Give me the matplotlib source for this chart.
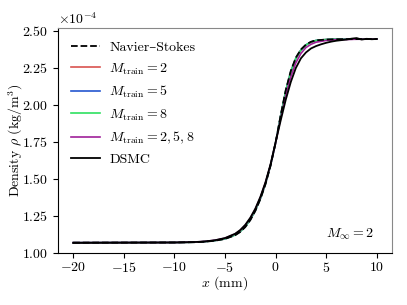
import numpy as np
import matplotlib
matplotlib.use("Agg")
import matplotlib.pyplot as plt

plt.rcParams['font.family'] = ['cmr10', 'DejaVu Serif']
plt.rcParams['mathtext.fontset'] = 'cm'
plt.rcParams['axes.formatter.use_mathtext'] = True
plt.rcParams['axes.unicode_minus'] = True
plt.rcParams['font.size'] = 10

# Navier-Stokes
x_ns = [-20, -10, -8, -7, -6, -5, -4, -3.5, -3, -2.5, -2, -1.5, -1, -0.5, 0, 0.5, 1, 1.5, 2, 2.5, 3, 3.5, 4, 5, 6, 8, 10]
rho_ns = [1.070, 1.071, 1.073, 1.076, 1.083, 1.095, 1.120, 1.142, 1.175, 1.222, 1.285, 1.365, 1.465, 1.590, 1.745, 1.930, 2.100, 2.230, 2.320, 2.375, 2.408, 2.427, 2.437, 2.442, 2.444, 2.445, 2.445]

# M_train = 2
x_m2 = [-20, -10, -8, -7, -6, -5, -4, -3.5, -3, -2.5, -2, -1.5, -1, -0.5, 0, 0.5, 1, 1.5, 2, 2.5, 3, 3.5, 4, 5, 6, 8, 10]
rho_m2 = [1.070, 1.071, 1.073, 1.077, 1.084, 1.097, 1.123, 1.146, 1.180, 1.227, 1.290, 1.370, 1.470, 1.592, 1.745, 1.925, 2.092, 2.222, 2.313, 2.370, 2.404, 2.424, 2.435, 2.442, 2.444, 2.445, 2.445]

# M_train = 5
x_m5 = [-20, -10, -8, -7, -6, -5, -4, -3.5, -3, -2.5, -2, -1.5, -1, -0.5, 0, 0.5, 1, 1.5, 2, 2.5, 3, 3.5, 4, 5, 6, 8, 10]
rho_m5 = [1.070, 1.071, 1.073, 1.077, 1.084, 1.096, 1.122, 1.145, 1.178, 1.225, 1.288, 1.368, 1.468, 1.591, 1.745, 1.927, 2.095, 2.225, 2.316, 2.372, 2.406, 2.426, 2.436, 2.442, 2.444, 2.445, 2.445]

# M_train = 8
x_m8 = [-20, -10, -8, -7, -6, -5, -4, -3.5, -3, -2.5, -2, -1.5, -1, -0.5, 0, 0.5, 1, 1.5, 2, 2.5, 3, 3.5, 4, 5, 6, 8, 10]
rho_m8 = [1.070, 1.071, 1.073, 1.077, 1.084, 1.096, 1.122, 1.145, 1.178, 1.226, 1.289, 1.369, 1.469, 1.592, 1.746, 1.926, 2.093, 2.223, 2.314, 2.371, 2.405, 2.425, 2.436, 2.442, 2.444, 2.445, 2.445]

# M_train = 2, 5, 8
x_m258 = [-20, -10, -8, -7, -6, -5, -4, -3.5, -3, -2.5, -2, -1.5, -1, -0.5, 0, 0.5, 1, 1.5, 2, 2.5, 3, 3.5, 4, 5, 6, 8, 10]
rho_m258 = [1.070, 1.071, 1.074, 1.078, 1.086, 1.100, 1.128, 1.152, 1.187, 1.234, 1.297, 1.376, 1.475, 1.595, 1.745, 1.912, 2.065, 2.190, 2.285, 2.348, 2.388, 2.410, 2.424, 2.436, 2.441, 2.444, 2.445]

# DSMC
x_dsmc = [-20, -10, -8, -7, -6, -5, -4, -3.5, -3, -2.5, -2, -1.5, -1, -0.5, 0, 0.5, 1, 1.5, 2, 2.5, 3, 3.5, 4, 4.5, 5, 5.5, 6, 6.5, 7, 7.5, 8, 8.5, 9, 9.5, 10]
rho_dsmc = [1.068, 1.071, 1.074, 1.078, 1.086, 1.101, 1.130, 1.155, 1.190, 1.238, 1.300, 1.380, 1.478, 1.600, 1.748, 1.895, 2.035, 2.155, 2.250, 2.315, 2.355, 2.382, 2.398, 2.410, 2.420, 2.428, 2.434, 2.438, 2.442, 2.448, 2.452, 2.442, 2.447, 2.444, 2.446]

SCALE = 1e-4

fig = plt.figure(figsize=(4.07, 3.05), dpi=100)
ax = fig.add_axes([58/407, 1 - 253/305, (392-58)/407, (253-28)/305])

ax.plot(x_ns, np.array(rho_ns)*SCALE, color='black', ls='--', lw=1.3, label='Navier–Stokes', zorder=6)
ax.plot(x_m2, np.array(rho_m2)*SCALE, color='#d9534f', lw=1.2, label=r'$M_{\rm train}=2$')
ax.plot(x_m5, np.array(rho_m5)*SCALE, color='#2456d0', lw=1.2, label=r'$M_{\rm train}=5$')
ax.plot(x_m8, np.array(rho_m8)*SCALE, color='#2ee060', lw=1.2, label=r'$M_{\rm train}=8$')
ax.plot(x_m258, np.array(rho_m258)*SCALE, color='#a0209a', lw=1.2, label=r'$M_{\rm train}=2,5,8$')
ax.plot(x_dsmc, np.array(rho_dsmc)*SCALE, color='black', lw=1.3, label='DSMC', zorder=5)

ax.set_xlim(-21.5, 11.5)
ax.set_ylim(1.0e-4, 2.52e-4)
ax.set_xticks([-20, -15, -10, -5, 0, 5, 10])
ax.set_yticks([1.0e-4, 1.25e-4, 1.5e-4, 1.75e-4, 2.0e-4, 2.25e-4, 2.5e-4])
ax.ticklabel_format(axis='y', style='sci', scilimits=(0, 0))

for s in ['top', 'right']:
    ax.spines[s].set_color('#888888')
ax.tick_params(direction='out', length=3.5)
ax.tick_params(axis='x', pad=2.5)

ax.set_xlabel(r'$x$ (mm)')
ax.set_ylabel(r'Density $\rho$ (kg/m$^3$)')
ax.yaxis.set_label_coords(-0.10, 0.5)
ax.xaxis.set_label_coords(0.5, -0.095)

ot = ax.yaxis.get_offset_text()
ot.set_horizontalalignment('left')

ax.text(0.946, 0.05, r'$M_\infty = 2$', transform=ax.transAxes, ha='right', va='bottom', fontsize=10)

leg = ax.legend(loc='upper left', frameon=False, handlelength=2.1, handletextpad=0.65,
                borderaxespad=0.55, labelspacing=0.52, fontsize=10)

fig.savefig('out.png', dpi=100)
